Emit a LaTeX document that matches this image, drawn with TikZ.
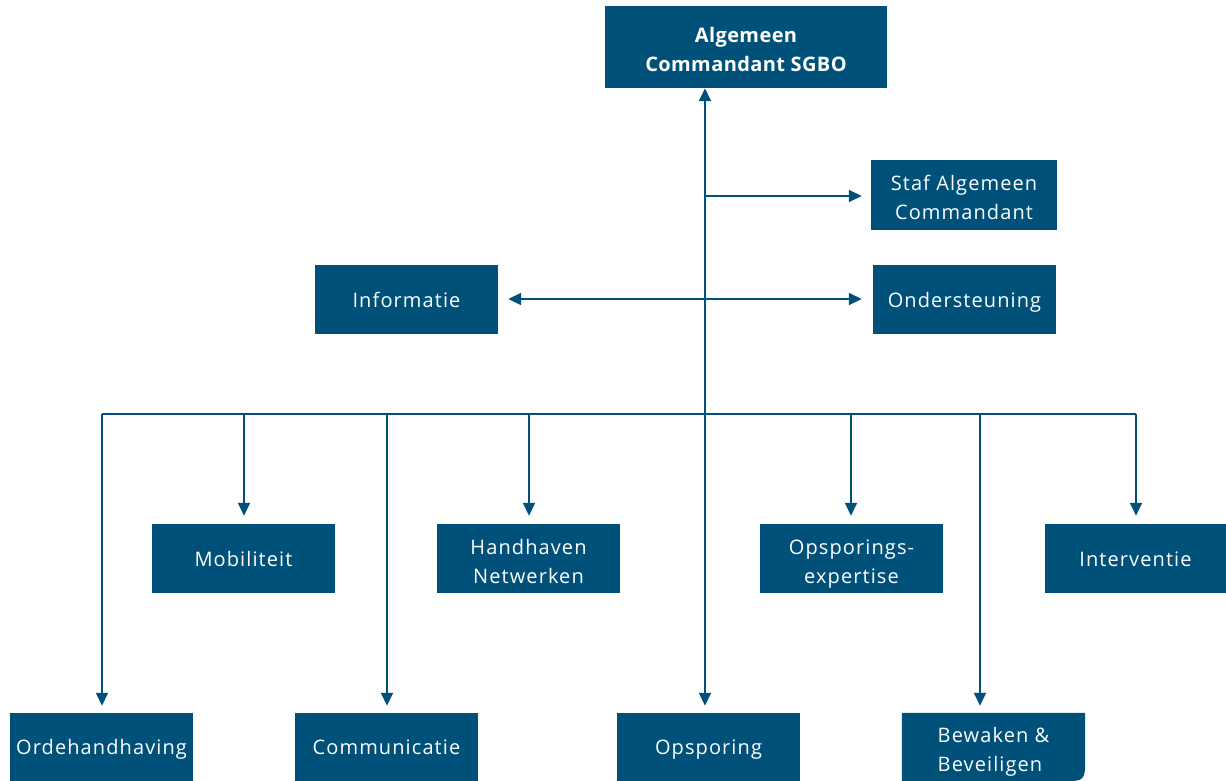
\documentclass[tikz,border=0pt]{standalone}
\usepackage{fontspec}
\setmainfont{Open Sans}[LetterSpace=5.5,BoldFeatures={LetterSpace=2}]
\usetikzlibrary{arrows.meta,backgrounds}
\definecolor{boxc}{RGB}{0,81,122}
\newcommand\twolines[3][c]{\raisebox{-4.5pt}[\height][\depth]{\begin{tabular}{@{}#1@{}}#2\\#3\end{tabular}}}
\tikzset{
  unit/.style={fill=boxc, text=white, inner sep=0pt, font=\fontsize{20}{29}\selectfont},
  one/.style={execute at begin node={\rule{0pt}{24.5pt}}, execute at end node=\strut},
  wbox/.style={unit, minimum width=183pt, minimum height=69pt},
  conn/.style={draw=boxc, line width=1.6pt},
  arr/.style={conn, -{Triangle[length=13pt,width=12pt]}},
  darr/.style={conn, {Triangle[length=13pt,width=12pt]}-{Triangle[length=13pt,width=12pt]}},
}
\begin{document}
\begin{tikzpicture}[x=1pt,y=-1pt]
\useasboundingbox (0,0) rectangle (1226,781);
% nodes
\node[unit, minimum width=282pt, minimum height=82pt, font=\fontsize{20}{29}\selectfont\bfseries] (acs) at (746,47) {\twolines{Algemeen}{Commandant SGBO}};
\node[wbox, minimum width=186pt, minimum height=70pt] (staf) at (964,195) {\twolines{Staf Algemeen}{Commandant}};
\node[wbox, one] (info) at (406.5,299.5) {Informatie};
\node[wbox, one] (onder) at (964.5,299.5) {Ondersteuning};
\node[wbox, one] (mob) at (243.5,558.5) {Mobiliteit};
\node[wbox] (hand) at (528.5,558.5) {\twolines{Handhaven}{Netwerken}};
\node[wbox] (opsexp) at (851.5,558.5) {\twolines{Opsporings-}{expertise}};
\node[wbox, one, minimum width=181pt] (inter) at (1135.5,558.5) {Interventie};
\node[wbox, one, minimum height=68pt] (orde) at (101.5,747) {Ordehandhaving};
\node[wbox, one, minimum height=68pt] (comm) at (386.5,747) {Communicatie};
\node[wbox, one, minimum height=68pt] (ops) at (708.5,747) {Opsporing};
\node[wbox, minimum height=68pt, fill=none] (bew) at (993.5,747) {\twolines[l]{Bewaken \&}{Beveiligen}};
\begin{scope}[on background layer]
\fill[boxc] (bew.south west) -- (bew.north west) -- (bew.north east) -- ([yshift=24pt]bew.south east) .. controls (bew.south east) .. ([xshift=-24pt]bew.south east) -- cycle;
\end{scope}
% spine
\coordinate (spine) at (705,414);
\coordinate (bl) at (102,414);
\coordinate (br) at (1136,414);
\coordinate (stafj) at (705,196);
\coordinate (midj) at (705,299);
\draw[arr] (spine) -- (spine |- acs.south);
\draw[arr, shorten >=7pt] (spine) -- (spine |- ops.north);
\draw[arr, shorten >=9pt] (stafj) -- (stafj -| staf.west);
\draw[darr, shorten <=10pt, shorten >=11pt] (midj -| info.east) -- (midj -| onder.west);
\draw[conn] (bl) -- (br);
% verticals from bus
\coordinate (c1) at (102,414);
\coordinate (c2) at (244,414);
\coordinate (c3) at (387,414);
\coordinate (c4) at (529,414);
\coordinate (c5) at (851,414);
\coordinate (c6) at (980,414);
\coordinate (c7) at (1136,414);
\draw[arr, shorten >=7pt] (c1) -- (c1 |- orde.north);
\draw[arr, shorten >=8pt] (c2) -- (c2 |- mob.north);
\draw[arr, shorten >=7pt] (c3) -- (c3 |- comm.north);
\draw[arr, shorten >=8pt] (c4) -- (c4 |- hand.north);
\draw[arr, shorten >=8pt] (c5) -- (c5 |- opsexp.north);
\draw[arr, shorten >=7pt] (c6) -- (c6 |- bew.north);
\draw[arr, shorten >=8pt] (c7) -- (c7 |- inter.north);
\end{tikzpicture}
\end{document}
